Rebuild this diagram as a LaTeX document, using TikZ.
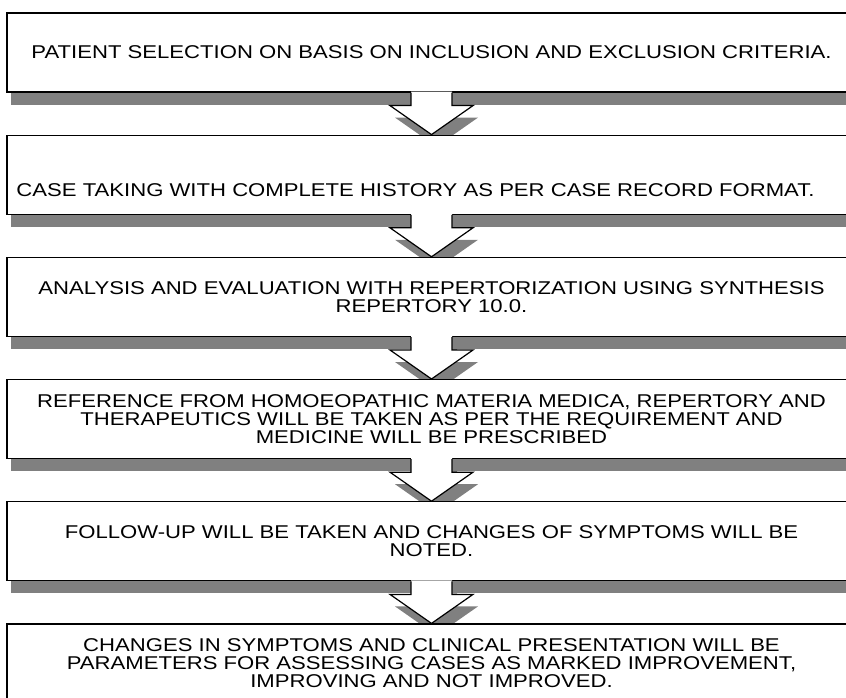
\documentclass[tikz,border=0pt]{standalone}
\usepackage{fontspec}
\usetikzlibrary{positioning}
\usetikzlibrary{calc}
\usetikzlibrary{backgrounds}
\newfontfamily\boxfont[FakeStretch=1.195]{Liberation Sans}
\definecolor{shadowgray}{RGB}{128,128,128}

% pointer from one step box down to the next, with its shadow
\newcommand{\Pointer}[2]{%
  \begin{scope}[on background layer]
    \fill[shadowgray] ($(#1.south)+(-15.5,12)$) -- ++(0,13) -- ++(-21,0)
      -- ($(#2.north)+(5,12)$) -- ($(#1.south)+(46.5,25)$) -- ++(-21,0) -- ++(0,-13) -- cycle;
  \end{scope}
  \fill[white] ($(#1.south)+(-20.5,-1)$) -- ++(0,14) -- ++(-21,0)
    -- (#2.north) -- ($(#1.south)+(41.5,13)$) -- ++(-21,0) -- ++(0,-14) -- cycle;
  \draw[line width=1.2pt, line join=miter] ($(#1.south)+(-20.5,0)$) -- ++(0,13) -- ++(-21,0)
    -- (#2.north) -- ($(#1.south)+(41.5,13)$) -- ++(-21,0) -- ++(0,-13);
}

\begin{document}
\begin{tikzpicture}[x=1pt, y=-1pt, node distance=42pt,
  stepbox/.style={draw, line width=1.2pt, fill=white, inner sep=0pt,
    minimum width=849pt, minimum height=79pt, align=center,
    font=\boxfont\fontsize{18.5}{18}\selectfont}]
\clip (0,0) rectangle (846,698);
\useasboundingbox (0,0) rectangle (846,698);

\node[stepbox]              (s1) at (431.5,52.5) {PATIENT SELECTION ON BASIS ON INCLUSION AND EXCLUSION CRITERIA.};
\node[stepbox, below=of s1] (s2) {\raisebox{-22pt}[0pt][0pt]{\hspace*{-32pt}CASE TAKING WITH COMPLETE HISTORY AS PER CASE RECORD FORMAT.}};
\node[stepbox, below=of s2] (s3) {ANALYSIS AND EVALUATION WITH REPERTORIZATION USING SYNTHESIS\\REPERTORY 10.0.};
\node[stepbox, below=of s3] (s4) {REFERENCE FROM HOMOEOPATHIC MATERIA MEDICA, REPERTORY AND\\THERAPEUTICS WILL BE TAKEN AS PER THE REQUIREMENT AND\\MEDICINE WILL BE PRESCRIBED};
\node[stepbox, below=of s4] (s5) {FOLLOW-UP WILL BE TAKEN AND CHANGES OF SYMPTOMS WILL BE\\NOTED.};
\node[stepbox, below=of s5] (s6) {CHANGES IN SYMPTOMS AND CLINICAL PRESENTATION WILL BE\\PARAMETERS FOR ASSESSING CASES AS MARKED IMPROVEMENT,\\IMPROVING AND NOT IMPROVED.};

% Shadows
\begin{scope}[on background layer]
\foreach \s in {s1,s2,s3,s4,s5,s6}
  \fill[shadowgray] ($(\s.north west)+(5,12)$) rectangle ($(\s.south east)+(5,12)$);
\end{scope}

% Pointers
\Pointer{s1}{s2}
\Pointer{s2}{s3}
\Pointer{s3}{s4}
\Pointer{s4}{s5}
\Pointer{s5}{s6}

\end{tikzpicture}
\end{document}
